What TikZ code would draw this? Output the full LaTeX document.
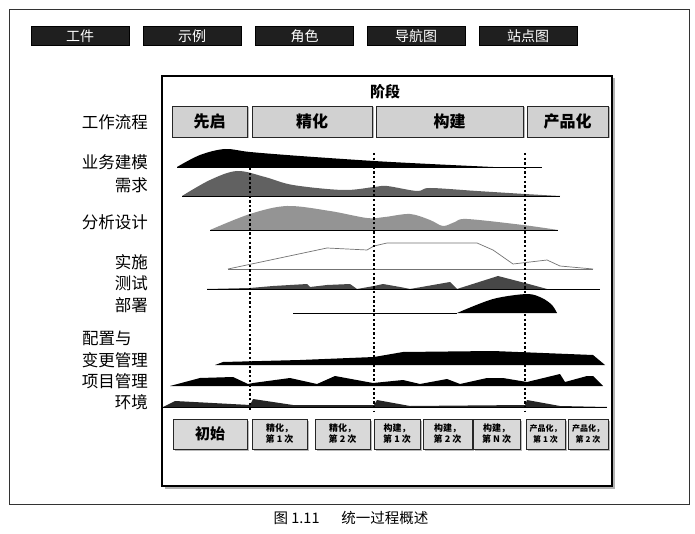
\documentclass[tikz,border=0pt]{standalone}
\usepackage{fontspec}
\setmainfont{Noto Sans CJK SC}
\usetikzlibrary{shadows}

\tikzset{
  tab/.style={draw=black, fill=black!88, text=white, minimum width=98pt, minimum height=19pt, inner sep=0pt, font=\fontsize{14}{16}\selectfont},
  phase/.style={draw=black!85, fill=black!18, line width=0.9pt, drop shadow={shadow xshift=1.5pt, shadow yshift=-1.5pt, fill=black!55}, minimum height=31pt, inner sep=0pt, font=\fontsize{16}{18}\selectfont\bfseries},
  flow/.style={anchor=east, inner sep=0pt, font=\fontsize{16.5}{18}\selectfont},
  iter/.style={draw=black!85, fill=black!15, line width=0.9pt, drop shadow={shadow xshift=1.5pt, shadow yshift=-1.5pt, fill=black!55}, minimum height=30pt, inner sep=0pt, align=center, font=\fontsize{9}{11}\selectfont\bfseries},
  phaseline/.style={line width=2pt, dash pattern=on 2.4pt off 2.2pt},
}

\begin{document}
\begin{tikzpicture}[x=1pt,y=-1pt]
\useasboundingbox (0,0) rectangle (695,534);
\draw[line width=0.8pt, black!80] (9,9) rectangle (689,504);

\node[tab] (t1) at (80,36) {工件};
\node[tab] (t2) at (192,36) {示例};
\node[tab] (t3) at (304.5,36) {角色};
\node[tab] (t4) at (416,36) {导航图};
\node[tab] (t5) at (528,36) {站点图};

\draw[line width=1.4pt, fill=white, drop shadow={shadow xshift=2.5pt, shadow yshift=-2.5pt, fill=black!60}] (162,76) rectangle (612,486);
\node[font=\fontsize{15}{18}\selectfont\bfseries] (stage) at (385,92) {阶段};

\node[phase, minimum width=75pt] (inc) at (209.5,121.5) {先启};
\node[phase, minimum width=120pt] (ela) at (312,121.5) {精化};
\node[phase, minimum width=147pt] (con) at (449.5,121.5) {构建};
\node[phase, minimum width=81pt] (tra) at (567.5,121.5) {产品化};

\node[flow] (wf) at (148,122) {工作流程};
\node[flow] (bm) at (148,162) {业务建模};
\node[flow] (req) at (148,185) {需求};
\node[flow] (ad) at (148,222) {分析设计};
\node[flow] (impl) at (148,262) {实施};
\node[flow] (test) at (148,283) {测试};
\node[flow] (dep) at (148,305) {部署};
\node[flow, anchor=west] (cfg) at (82,338) {配置与};
\node[flow] (ccm) at (148,360) {变更管理};
\node[flow] (pm) at (148,381) {项目管理};
\node[flow] (env) at (148,402) {环境};

\fill[black] plot[smooth, tension=0.55] coordinates {(177,167) (200,155) (225,149) (250,152) (300,156) (374,161) (430,164) (493,167)} -- cycle;
\draw[line width=0.6pt] (177,167) -- (542,167);
\fill[black!62] plot[smooth, tension=0.55] coordinates {(182,196) (210,180) (237,171) (265,177) (293,185) (343,190) (374,187) (387,186) (417,191) (430,188) (477,191) (525,194) (560,196)} -- cycle;
\draw[line width=0.6pt] (182,196) -- (560,196);
\fill[black!42] plot[smooth, tension=0.55] coordinates {(210,230) (250,214) (287,206) (330,211) (367,218) (385,217) (410,214) (430,220) (443,226) (455,222) (467,219) (523,225) (558,230)} -- cycle;
\draw[line width=0.6pt] (210,230) -- (558,230);
\draw[black!55, line width=0.7pt] (228,269) -- (593,269);
\draw[black!55, line width=0.7pt] (228,269) -- (327,248) -- (367,250) -- (374,246) -- (387,243) -- (477,243) -- (493,250) -- (513,264) -- (547,260) -- (560,266) -- (593,269);
\fill[black!72] (207,289) -- (250,288) -- (273,286) -- (307,284) -- (310,287) -- (327,285) -- (350,284) -- (357,289) -- (374,286) -- (383,284) -- (400,287) -- (410,289) -- (450,282) -- (457,289) -- (498,276) -- (525,283) -- (547,289) -- cycle;
\draw[line width=0.7pt] (207,289) -- (600,289);
\draw[line width=0.7pt] (293,313) -- (457,313);
\fill[black] plot[smooth, tension=0.5] coordinates {(457,313) (493,299) (527,294) (542,298) (552,305) (557,313)} -- cycle;
\fill[black] (215,365) -- (223,362) -- (300,360) -- (374,357) -- (403,352) -- (493,351) -- (593,355) -- (605,365) -- cycle;
\fill[black] (170,386) -- (200,378) -- (233,377) -- (248,384) -- (253,383) -- (290,378) -- (317,384) -- (335,376) -- (373,383) -- (403,380) -- (420,384) -- (447,379) -- (460,384) -- (487,378) -- (503,378) -- (527,382) -- (560,374) -- (565,382) -- (587,376) -- (593,376) -- (603,386) -- cycle;
\fill[black!85] (163,407) -- (175,401) -- (250,405) -- (253,399) -- (293,405) -- (374,405) -- (377,400) -- (410,406) -- (525,405) -- (527,400) -- (560,406) -- (607,407) -- cycle;
\draw[line width=0.8pt] (163,407) -- (607,407);

\coordinate (e1t) at (250,168);
\coordinate (e1b) at (250,411);
\coordinate (c1t) at (374,153);
\coordinate (c1b) at (374,411);
\coordinate (p1t) at (525,153);
\coordinate (p1b) at (525,411);
\draw[phaseline] (e1t) -- (e1b);
\draw[phaseline] (c1t) -- (c1b);
\draw[phaseline] (p1t) -- (p1b);

\node[iter, minimum width=74pt, font=\fontsize{15}{18}\selectfont\bfseries] (i0) at (210,434) {初始};
\node[iter, minimum width=55pt] (e1) at (279.5,434) {精化，\\第 1 次};
\node[iter, minimum width=55pt] (e2) at (342.5,434) {精化，\\第 2 次};
\node[iter, minimum width=46pt] (c1) at (397,434) {构建，\\第 1 次};
\node[iter, minimum width=49pt] (c2) at (447.5,434) {构建，\\第 2 次};
\node[iter, minimum width=47pt] (cn) at (496.5,434) {构建，\\第 N 次};
\node[iter, minimum width=39pt, font=\fontsize{8}{11}\selectfont\bfseries] (p1) at (545.5,434) {产品化，\\第 1 次};
\node[iter, minimum width=40pt, font=\fontsize{8}{11}\selectfont\bfseries] (p2) at (588,434) {产品化，\\第 2 次};

\node[font=\fontsize{14.5}{17}\selectfont] (cap) at (351,518) {图 1.11\hspace{1.5em}统一过程概述};
\end{tikzpicture}
\end{document}
